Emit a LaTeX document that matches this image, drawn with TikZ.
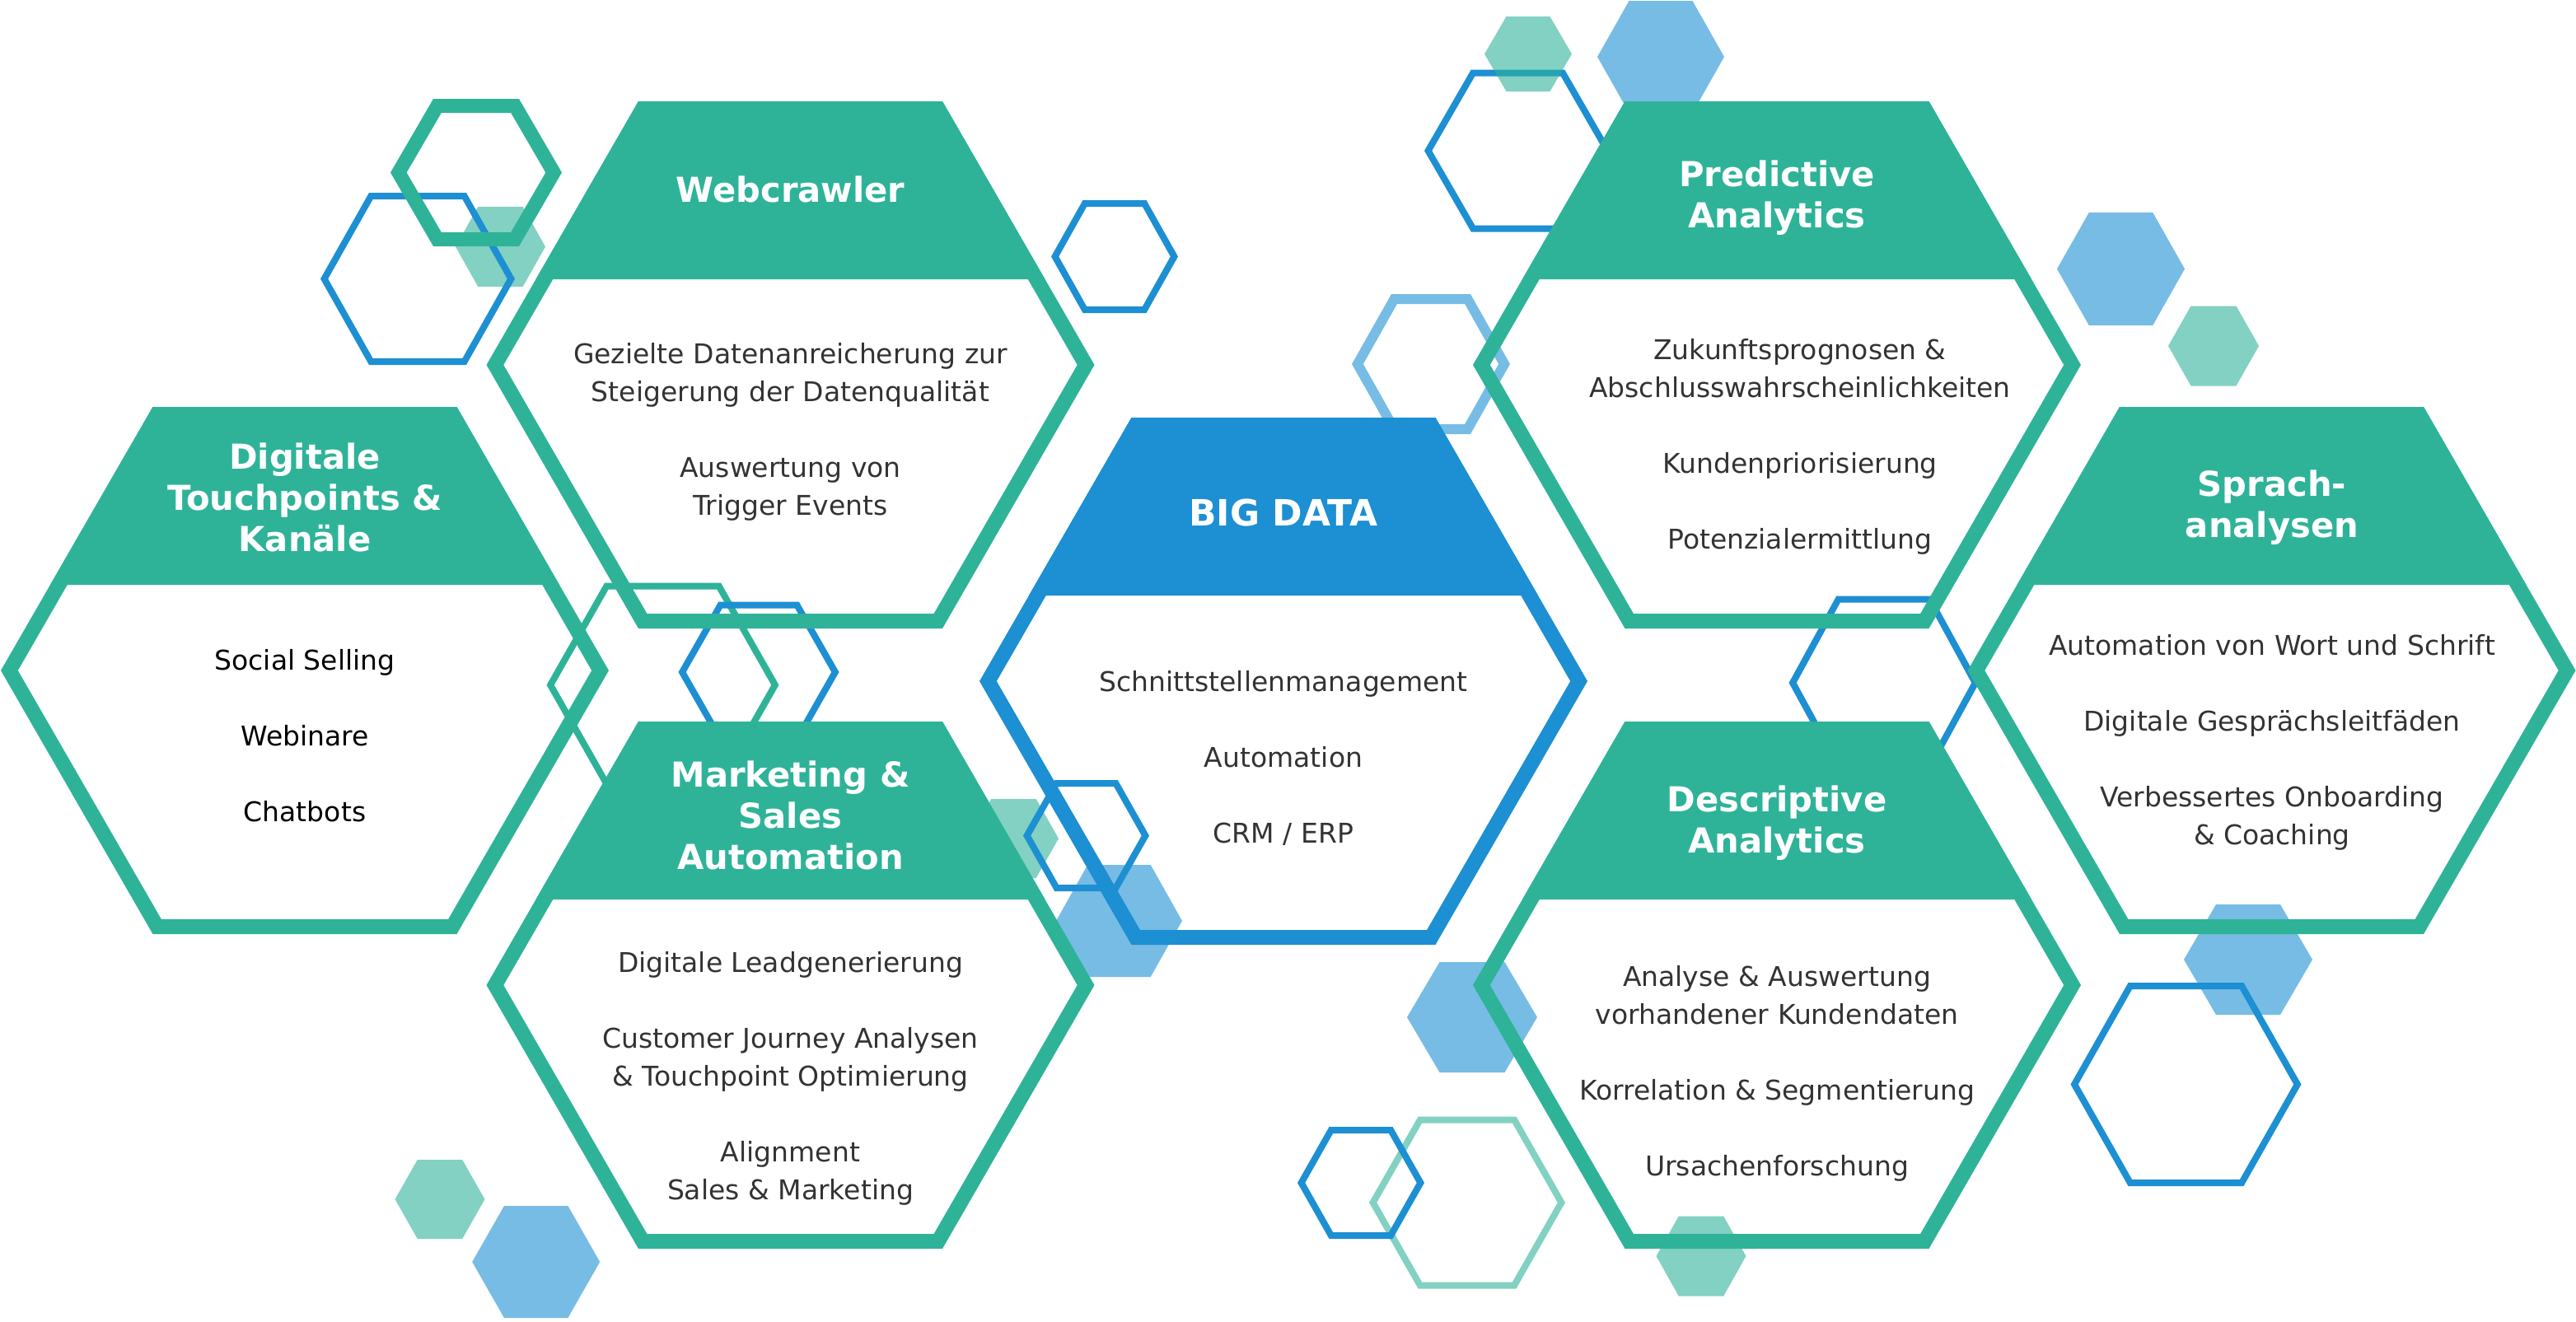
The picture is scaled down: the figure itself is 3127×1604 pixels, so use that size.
\documentclass[tikz,border=0pt]{standalone}
\usepackage{fontspec}
\setmainfont{DejaVu Sans}
\definecolor{hexgreen}{HTML}{2EB399}
\definecolor{hexblue}{HTML}{1D8FD3}
\definecolor{bodytext}{HTML}{333333}
\newcommand{\hexpath}[4]{({#1-(#3)},{#2}) -- ({#1-(#3)/2},{#2-(#4)}) -- ({#1+(#3)/2},{#2-(#4)}) -- ({#1+(#3)},{#2}) -- ({#1+(#3)/2},{#2+(#4)}) -- ({#1-(#3)/2},{#2+(#4)}) -- cycle}
% cx cy Rx Ry style
\newcommand{\hexfill}[5]{\fill[#5] \hexpath{#1}{#2}{#3}{#4};}
% cx cy Rx Ry t style
\newcommand{\hexring}[6]{\fill[even odd rule,#6] \hexpath{#1}{#2}{#3}{#4} \hexpath{#1}{#2}{#3-1.155*#5}{#4-#5};}
% cx cy colour
\newcommand{\bighex}[3]{%
  \hexring{#1}{#2}{369}{320}{18}{fill=#3}
  \fill[#3] ({#1-184.5},{#2-320}) -- ({#1+184.5},{#2-320}) -- ({#1+309},{#2-104}) -- ({#1-309},{#2-104}) -- cycle;}
\tikzset{
  lightgreen/.style={fill=hexgreen,fill opacity=0.6},
  lightblue/.style={fill=hexblue,fill opacity=0.6},
  solidgreen/.style={fill=hexgreen},
  solidblue/.style={fill=hexblue},
  headtext/.style={text=white,align=center,inner sep=0pt,font=\fontsize{41.7}{50}\selectfont\bfseries},
  bodylabel/.style={text=bodytext,align=center,inner sep=0pt,font=\fontsize{33}{46}\selectfont},
  blacklabel/.style={bodylabel,text=black}
}
\begin{document}
\begin{tikzpicture}[x=1pt,y=-1pt]
\useasboundingbox (0,0) rectangle (3127,1604);
% small hexagons, behind
\hexfill{607.5}{299.5}{54.5}{48.5}{lightgreen}
\hexring{507}{338.5}{118}{104.5}{8}{solidblue}
\hexring{578}{209.5}{104}{89.5}{17}{solidgreen}
\hexring{1353}{311.5}{77}{68.5}{8}{solidblue}
\hexring{804.5}{831.6}{141}{124}{8}{solidgreen}
\hexring{921}{816}{97.5}{85.5}{8}{solidblue}
\hexfill{1230.5}{1018}{54.5}{48}{lightgreen}
\hexfill{1358.5}{1118}{76.5}{68}{lightblue}
\hexring{1318.5}{1014.5}{76.5}{67.5}{8}{solidblue}
\hexfill{534}{1456}{54.5}{48}{lightgreen}
\hexfill{650.7}{1532}{77.5}{68}{lightblue}
\hexring{1842.5}{183}{113.5}{98.5}{8}{solidblue}
\hexfill{1855}{65.5}{53}{45.5}{lightgreen}
\hexfill{2016}{69}{77}{68}{lightblue}
\hexring{1737}{442}{96}{85}{12}{lightblue}
\hexfill{2574.5}{326.5}{77.5}{68.5}{lightblue}
\hexfill{2687}{420}{55}{48.5}{lightgreen}
\hexring{2287}{829}{115.5}{105.5}{8}{solidblue}
\hexfill{2729}{1165}{78}{67}{lightblue}
\hexring{2653.5}{1316.5}{140}{123.5}{8}{solidblue}
\hexfill{1787}{1235}{79}{67}{lightblue}
\hexring{1781}{1460}{119}{104.5}{8}{lightgreen}
\hexring{1652}{1436}{77}{68}{8}{solidblue}
\hexfill{2065}{1525}{54.5}{48.5}{lightgreen}
% large hexagons
\bighex{370}{814}{hexgreen}
\bighex{959.5}{443}{hexgreen}
\bighex{959.5}{1196}{hexgreen}
\bighex{1558}{827}{hexblue}
\bighex{2157}{443}{hexgreen}
\bighex{2157}{1196}{hexgreen}
\bighex{2757.5}{814}{hexgreen}
% text
\node[headtext] (webhead) at (959.5,230) {Webcrawler};
\node[bodylabel] (webbody) at (959.5,524) {Gezielte Datenanreicherung zur\\Steigerung der Datenqualität\\~\\Auswertung von\\Trigger Events};
\node[headtext] (dighead) at (370,604) {Digitale\\Touchpoints \&\\Kanäle};
\node[blacklabel] (digbody) at (370,893) {Social Selling\\~\\Webinare\\~\\Chatbots};
\node[headtext] (markhead) at (959.5,990) {Marketing \&\\Sales\\Automation};
\node[bodylabel] (markbody) at (959.5,1309) {Digitale Leadgenerierung\\~\\Customer Journey Analysen\\\& Touchpoint Optimierung\\~\\Alignment\\Sales \& Marketing};
\node[headtext,font=\fontsize{44}{50}\selectfont\bfseries] (bighead) at (1558,622) {BIG DATA};
\node[bodylabel] (bigbody) at (1558,920) {Schnittstellenmanagement\\~\\Automation\\~\\CRM / ERP};
\node[headtext] (predhead) at (2157,240) {Predictive\\Analytics};
\node[bodylabel] (predbody) at (2185,542) {Zukunftsprognosen \&\\Abschlusswahrscheinlichkeiten\\~\\Kundenpriorisierung\\~\\Potenzialermittlung};
\node[headtext] (sprachhead) at (2758,616) {Sprach-\\analysen};
\node[bodylabel] (sprachbody) at (2758,901) {Automation von Wort und Schrift\\~\\Digitale Gesprächsleitfäden\\~\\Verbessertes Onboarding\\\& Coaching};
\node[headtext] (deschead) at (2157,999.5) {Descriptive\\Analytics};
\node[bodylabel] (descbody) at (2157,1303) {Analyse \& Auswertung\\vorhandener Kundendaten\\~\\Korrelation \& Segmentierung\\~\\Ursachenforschung};
\end{tikzpicture}
\end{document}
